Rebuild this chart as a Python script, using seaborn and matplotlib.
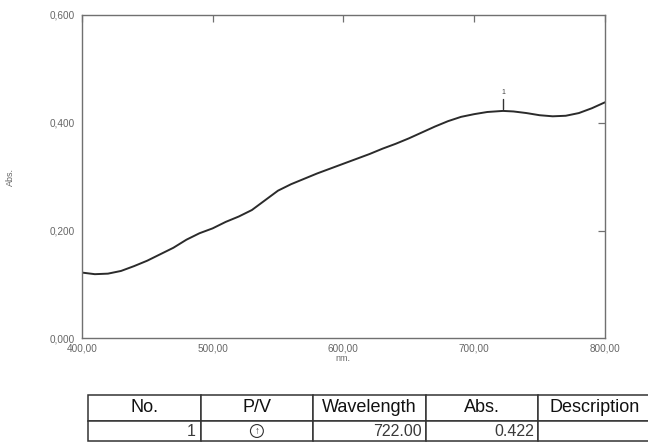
import matplotlib
matplotlib.use("Agg")
import matplotlib.pyplot as plt
import seaborn as sns
import pandas as pd

# Absorbance spectrum
wavelength_nm = [400, 410, 420, 430, 440, 450, 460, 470, 480, 490,
                 500, 510, 520, 530, 540, 550, 560, 570, 580, 590,
                 600, 610, 620, 630, 640, 650, 660, 670, 680, 690,
                 700, 710, 722, 730, 740, 750, 760, 770, 780, 790, 800]
absorbance = [0.122, 0.119, 0.120, 0.125, 0.134, 0.144, 0.156, 0.168, 0.183, 0.195,
              0.204, 0.216, 0.226, 0.238, 0.256, 0.274, 0.286, 0.296, 0.306, 0.315,
              0.324, 0.333, 0.342, 0.352, 0.361, 0.371, 0.382, 0.393, 0.403, 0.411,
              0.416, 0.420, 0.422, 0.421, 0.418, 0.414, 0.412, 0.413, 0.418, 0.427, 0.438]

# Detected peak
peak_no = ["1"]
peak_nm = [722.00]
peak_abs = [0.422]

x_ticks = [400, 500, 600, 700, 800]
x_tick_labels = ["400,00", "500,00", "600,00", "700,00", "800,00"]
y_ticks = [0.0, 0.2, 0.4, 0.6]
y_tick_labels = ["0,000", "0,200", "0,400", "0,600"]

table_header = ["No.", "P/V", "Wavelength", "Abs.", "Description"]

sns.set_theme(style="white")
plt.rcParams["font.family"] = ["Liberation Sans", "DejaVu Sans"]

W, H = 648, 443
fig = plt.figure(figsize=(W / 100, H / 100), dpi=100)
fig.patch.set_facecolor("white")

left, right, top, bottom = 81.8, 605.0, 15.0, 338.3
ax = fig.add_axes([left / W, 1 - bottom / H, (right - left) / W, (bottom - top) / H])

df = pd.DataFrame({"nm": wavelength_nm, "abs": absorbance})
sns.lineplot(data=df, x="nm", y="abs", ax=ax, color="#2b2b2b", linewidth=1.4)

ax.set_xlim(400, 800)
ax.set_ylim(0, 0.6)

spine_color = "#707070"
for s in ax.spines.values():
    s.set_color(spine_color)
    s.set_linewidth(1.0)

lab_color = "#666666"
ax.set_xticks(x_ticks)
ax.set_xticklabels(x_tick_labels)
ax.set_yticks(y_ticks)
ax.set_yticklabels(y_tick_labels)
ax.tick_params(axis="x", direction="in", length=5, width=0.9, color=spine_color,
               labelsize=7.2, labelcolor=lab_color, pad=4, top=True)
ax.tick_params(axis="y", direction="out", length=4, width=0.9, color=spine_color,
               labelsize=7.2, labelcolor=lab_color, pad=1)

sec = ax.secondary_yaxis("right")
sec.set_yticks(y_ticks[1:3])
sec.tick_params(direction="in", length=5, width=0.9, color=spine_color, labelright=False)
sec.spines["right"].set_visible(False)

ax.set_xlabel("nm.", fontsize=6.5, color=lab_color, labelpad=0)
ax.set_ylabel("Abs.", fontsize=6.5, color=lab_color)
ax.yaxis.set_label_coords(-0.128, 0.5)

# Peak marker
for n, a, lbl in zip(peak_nm, peak_abs, peak_no):
    ax.plot([n, n], [a + 0.003, a + 0.022], color="#333333", linewidth=1.0)
    ax.text(n, a + 0.028, lbl, ha="center", va="bottom", fontsize=5, color="#444444")

# Peak table
t_left, t_right, t_top, t_bot = 88.0, 651.0, 395.0, 441.0
tax = fig.add_axes([t_left / W, 1 - t_bot / H, (t_right - t_left) / W, (t_bot - t_top) / H])
tax.axis("off")
rows = [[peak_no[0], "\u2191", f"{peak_nm[0]:.2f}", f"{peak_abs[0]:.3f}", ""]]
tbl = tax.table(cellText=rows, colLabels=table_header, bbox=[0, 0, 1, 1],
                cellLoc="right", colLoc="center")
tbl.auto_set_font_size(False)
header_h = 26 / 46
for (r, c), cell in tbl.get_celld().items():
    cell.set_edgecolor("#333333")
    cell.set_linewidth(1.1)
    cell.set_facecolor("white")
    cell.PAD = 0.04
    txt = cell.get_text()
    if r == 0:
        cell.set_height(header_h)
        txt.set_fontsize(13)
        txt.set_color("#111111")
    else:
        cell.set_height(1 - header_h)
        txt.set_fontsize(11.5)
        txt.set_color("#3a3a3a")
        if c == 1:
            txt.set_ha("center")
            cell._loc = "center"
            txt.set_fontsize(7)
            txt.set_fontweight("bold")
            txt.set_bbox(dict(boxstyle="circle,pad=0.15", fc="white",
                              ec="#333333", lw=0.8))

fig.savefig("out.png", dpi=100)
